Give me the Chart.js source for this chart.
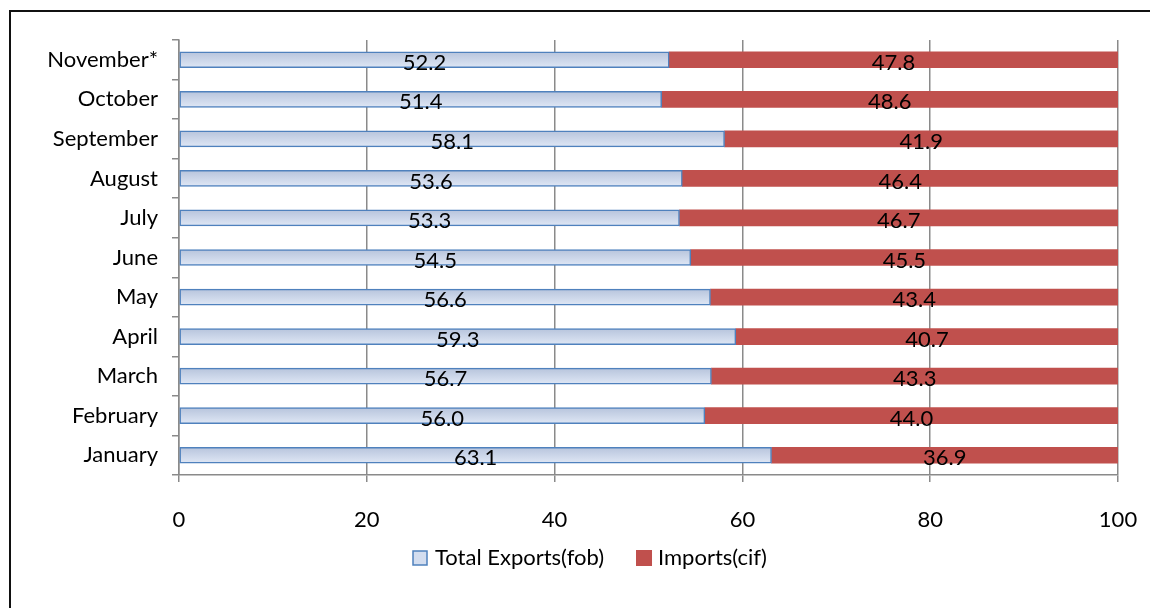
<!DOCTYPE html>
<html>
<head>
<meta charset="utf-8">
<script src="https://cdn.jsdelivr.net/npm/chart.js@4.4.0/dist/chart.umd.min.js"></script>
<style>
  html, body { margin: 0; padding: 0; background: #fff; }
  #wrap { width: 1150px; height: 608px; position: relative; }
</style>
</head>
<body>
<div id="wrap"><canvas id="chart" width="1150" height="608"></canvas></div>
<script>
const months = ["January", "February", "March", "April", "May", "June",
  "July", "August", "September", "October", "November*"];
const exportsFob = [63.1, 56.0, 56.7, 59.3, 56.6, 54.5, 53.3, 53.6, 58.1, 51.4, 52.2];
const importsCif = [36.9, 44.0, 43.3, 40.7, 43.4, 45.5, 46.7, 46.4, 41.9, 48.6, 47.8];
const xTicks = [0, 20, 40, 60, 80, 100];

const FONT = "Lato, 'Noto Sans', sans-serif";
const BAR_H = 16;
const EXP_BORDER = "#4f81bd";
const IMP_FILL = "#c0504d";

// vertical gradient for each export bar, Excel style
function exportFill(c) {
  const chart = c.chart;
  const y = chart.scales.y;
  if (!y || c.dataIndex === undefined) return "#c9d5ea";
  const py = y.getPixelForValue(c.dataIndex);
  if (!isFinite(py)) return "#c9d5ea";
  const g = chart.ctx.createLinearGradient(0, py - BAR_H / 2, 0, py + BAR_H / 2);
  g.addColorStop(0, "#b7c4dc");
  g.addColorStop(1, "#dfe7f5");
  return g;
}

const valueLabels = {
  id: "valueLabels",
  afterDatasetsDraw(chart) {
    const ctx = chart.ctx;
    ctx.save();
    ctx.font = "22px " + FONT;
    ctx.fillStyle = "#000";
    ctx.textAlign = "center";
    ctx.textBaseline = "middle";
    chart.data.datasets.forEach((ds, i) => {
      chart.getDatasetMeta(i).data.forEach((bar, j) => {
        const mid = (bar.x + bar.base) / 2;
        ctx.fillText(ds.data[j].toFixed(1), mid, bar.y + 3);
      });
    });
    ctx.restore();
  }
};

// legend drawn by hand so it can sit close under the axis labels
const bottomLegend = {
  id: "bottomLegend",
  afterDraw(chart) {
    const ctx = chart.ctx;
    const ds = chart.data.datasets;
    ctx.save();
    ctx.font = "22px " + FONT;
    ctx.textBaseline = "middle";
    ctx.textAlign = "left";
    const box = 14, gapText = 8, gapItem = 32;
    const w0 = ctx.measureText(ds[0].label).width;
    const w1 = ctx.measureText(ds[1].label).width;
    const total = box + gapText + w0 + gapItem + box + gapText + w1;
    let x = 590 - total / 2;
    const y = 558;
    ctx.fillStyle = "#d3ddef";
    ctx.fillRect(x, y - box / 2, box, box);
    ctx.strokeStyle = EXP_BORDER;
    ctx.lineWidth = 1.5;
    ctx.strokeRect(x, y - box / 2, box, box);
    ctx.fillStyle = "#000";
    ctx.fillText(ds[0].label, x + box + gapText, y);
    x += box + gapText + w0 + gapItem;
    ctx.fillStyle = IMP_FILL;
    ctx.fillRect(x, y - box / 2 - 1, box + 2, box + 2);
    ctx.fillStyle = "#000";
    ctx.fillText(ds[1].label, x + box + gapText, y);
    ctx.restore();
  }
};

const frame = {
  id: "frame",
  beforeDraw(chart) {
    const ctx = chart.ctx;
    ctx.save();
    ctx.fillStyle = "#fff";
    ctx.fillRect(0, 0, chart.width, chart.height);
    ctx.restore();
  },
  afterDraw(chart) {
    const ctx = chart.ctx;
    ctx.save();
    ctx.strokeStyle = "#111";
    ctx.lineWidth = 2;
    ctx.beginPath();
    ctx.moveTo(10, chart.height);
    ctx.lineTo(10, 11);
    ctx.lineTo(chart.width, 11);
    ctx.stroke();
    ctx.restore();
  }
};

new Chart(document.getElementById("chart"), {
  type: "bar",
  data: {
    labels: months,
    datasets: [
      {
        label: "Total Exports(fob)",
        data: exportsFob,
        backgroundColor: exportFill,
        borderColor: EXP_BORDER,
        borderWidth: 1.5,
        borderSkipped: false,
        barThickness: BAR_H
      },
      {
        label: "Imports(cif)",
        data: importsCif,
        backgroundColor: IMP_FILL,
        borderWidth: 0,
        barThickness: BAR_H
      }
    ]
  },
  options: {
    indexAxis: "y",
    responsive: false,
    animation: false,
    layout: { padding: { top: 40, left: 10, right: 32, bottom: 63 } },
    plugins: {
      legend: { display: false },
      tooltip: { enabled: false }
    },
    scales: {
      x: {
        stacked: true,
        min: 0,
        max: 100,
        afterBuildTicks(scale) {
          scale.ticks = xTicks.map((v) => ({ value: v }));
        },
        ticks: {
          color: "#000",
          font: { family: FONT, size: 22 },
          padding: 25,
          maxRotation: 0
        },
        grid: {
          color: "#8a8a8a",
          lineWidth: 1.5,
          tickLength: 7
        },
        border: { color: "#8a8a8a", width: 1.5 },
        afterFit(scale) {
          scale.height = 70;
          // tick padding would otherwise widen the right margin
          scale.paddingLeft = 0;
          scale.paddingRight = 0;
        }
      },
      y: {
        stacked: true,
        reverse: true,
        ticks: {
          color: "#000",
          font: { family: FONT, size: 22 },
          padding: 14
        },
        grid: {
          offset: true,
          drawOnChartArea: false,
          color: "#8a8a8a",
          lineWidth: 1.5,
          tickLength: 7
        },
        border: { color: "#8a8a8a", width: 1.5 },
        afterFit(scale) { scale.width = 169; }
      }
    }
  },
  plugins: [frame, valueLabels, bottomLegend]
});
</script>
</body>
</html>
